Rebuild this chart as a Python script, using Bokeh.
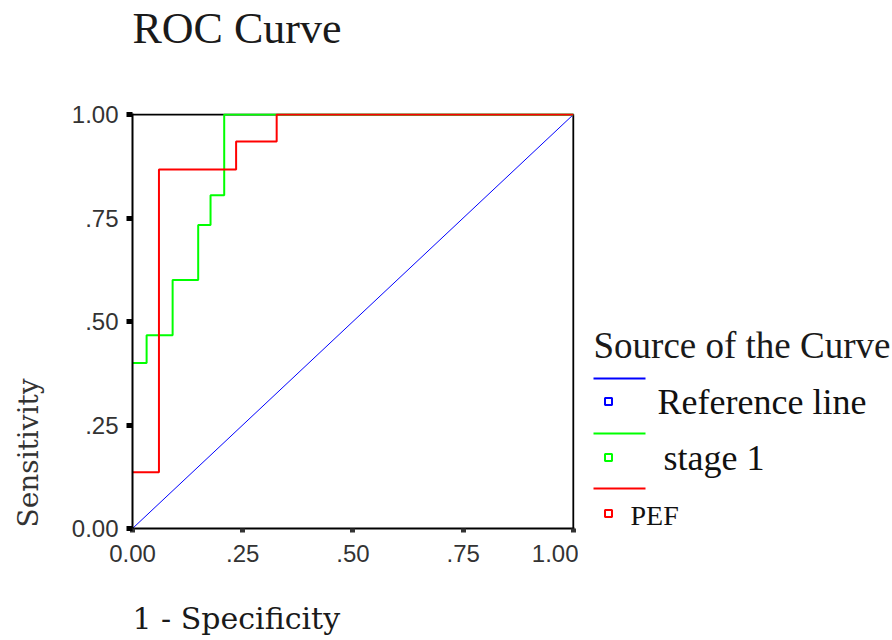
from bokeh.plotting import figure
from bokeh.models import Range1d, FixedTicker, Title
from bokeh.layouts import row
from bokeh.core.properties import value
from bokeh.embed import file_html
from bokeh.resources import INLINE

# ---- data ----
tick_values = [0.0, 0.25, 0.5, 0.75, 1.0]
tick_labels = ["0.00", ".25", ".50", ".75", "1.00"]

ref_fpr = [0.0, 1.0]
ref_tpr = [0.0, 1.0]

stage1_fpr = [0.0, 0.032, 0.091, 0.149, 0.177, 0.208, 1.0]
stage1_tpr = [0.400, 0.467, 0.600, 0.733, 0.805, 1.000, 1.000]

pef_fpr = [0.0, 0.060, 0.235, 0.327, 1.0]
pef_tpr = [0.136, 0.867, 0.935, 1.000, 1.000]

series_names = ["Reference line", "stage 1", "PEF"]
series_colors = ["#0000ff", "#00ff00", "#ff0000"]

TITLE = "ROC Curve"
XLABEL = "1 - Specificity"
YLABEL = "Sensitivity"
LEGEND_TITLE = "Source of the Curve"

# ---- layout geometry (pixels) ----
W_MAIN, H = 578, 640
FRAME_L, FRAME_R, FRAME_T, FRAME_B = 132, 574, 113, 528
MID = 0.3375  # baseline -> middle offset, in em
NBSP = "\u00a0"

# ---- main plot ----
p = figure(width=W_MAIN, height=H, x_range=Range1d(0, 1.0025), y_range=Range1d(0, 1.0025),
           output_backend="svg", toolbar_location=None,
           min_border_left=FRAME_L, min_border_right=W_MAIN - FRAME_R,
           min_border_top=FRAME_T, min_border_bottom=H - FRAME_B)
p.grid.visible = False
p.background_fill_color = "white"
p.border_fill_color = "white"
p.outline_line_color = None

for ax in (p.xaxis[0], p.yaxis[0]):
    ax.ticker = FixedTicker(ticks=tick_values)
    ax.major_label_overrides = {v: t for v, t in zip(tick_values, tick_labels)}
    ax.minor_tick_line_color = None
    ax.axis_line_color = "black"
    ax.axis_line_width = 2
    ax.major_tick_in = 0
    ax.major_label_text_font = "Liberation Sans"
    ax.major_label_text_font_size = "24px"
    ax.major_label_text_color = "#333333"
    # blank spacer label: pushes the real axis titles outwards
    ax.axis_label = NBSP
    ax.axis_label_text_font_size = "1px"

p.yaxis.major_tick_out = 6
p.yaxis.major_tick_line_width = 5
p.yaxis.major_tick_line_color = "black"
p.yaxis.major_label_standoff = 8
p.yaxis.axis_label_standoff = 20

p.xaxis.major_tick_out = 4
p.xaxis.major_tick_line_width = 5
p.xaxis.major_tick_line_color = "#333333"
p.xaxis.major_label_standoff = 12
p.xaxis.axis_label_standoff = 32

# plot box (top and right edges), under the curves
p.line([0, 1, 1], [1, 1, 0], line_color="black", line_width=2)

p.line(ref_fpr, ref_tpr, line_color=series_colors[0], line_width=1)
p.step(stage1_fpr, stage1_tpr, mode="after", line_color=series_colors[1], line_width=2)
p.step(pef_fpr, pef_tpr, mode="after", line_color=series_colors[2], line_width=2)

# chart title (with a spacer nearer the frame)
p.add_layout(Title(text=NBSP, text_font_size="1px", standoff=57), "above")
p.add_layout(Title(text=TITLE, text_font="Liberation Serif", text_font_size="44px",
                   text_font_style="normal", text_color="#1a1a1a", align="left",
                   offset=0, standoff=2, vertical_align="bottom"), "above")
# axis titles
p.add_layout(Title(text=XLABEL, text_font="DejaVu Serif", text_font_size="30px",
                   text_font_style="normal", text_color="#1a1a1a", align="left",
                   offset=0, standoff=0, vertical_align="top"), "below")
p.add_layout(Title(text=YLABEL, text_font="DejaVu Serif", text_font_size="28px",
                   text_font_style="normal", text_color="#333333", align="left",
                   offset=1, standoff=0, vertical_align="bottom"), "left")

# ---- legend panel (ranges expressed in page pixels) ----
W_LEG = 892 - W_MAIN
leg = figure(width=W_LEG, height=H, x_range=Range1d(W_MAIN, W_MAIN + W_LEG),
             y_range=Range1d(FRAME_B, FRAME_T),
             output_backend="svg", toolbar_location=None,
             x_axis_type=None, y_axis_type=None,
             min_border_left=0, min_border_right=0,
             min_border_top=FRAME_T, min_border_bottom=H - FRAME_B)
leg.grid.visible = False
leg.outline_line_color = None
leg.background_fill_color = "white"
leg.border_fill_color = "white"

leg.text(x=[593], y=[357 - MID * 37], text=[LEGEND_TITLE], text_font=value("Liberation Serif"),
         text_font_size=value("37px"), text_color="#1a1a1a",
         text_align="left", text_baseline="middle")

line_y = [378, 433, 488]
sq_y = [401, 457, 513]
txt_x = [657, 663, 630]
txt_base = [414, 470, 524]
txt_size = [36, 36, 28]
for i in range(3):
    leg.line([593, 645], [line_y[i], line_y[i]], line_color=series_colors[i], line_width=2)
    leg.scatter([608], [sq_y[i]], marker="square", size=7, fill_color="white",
                line_color=series_colors[i], line_width=2)
    leg.text(x=[txt_x[i]], y=[txt_base[i] - MID * txt_size[i]], text=[series_names[i]],
             text_font=value("Liberation Serif"), text_font_size=value(f"{txt_size[i]}px"),
             text_color="#111111", text_align="left", text_baseline="middle")

layout = row(p, leg, spacing=0)
open("out.html", "w").write(file_html(layout, INLINE))
